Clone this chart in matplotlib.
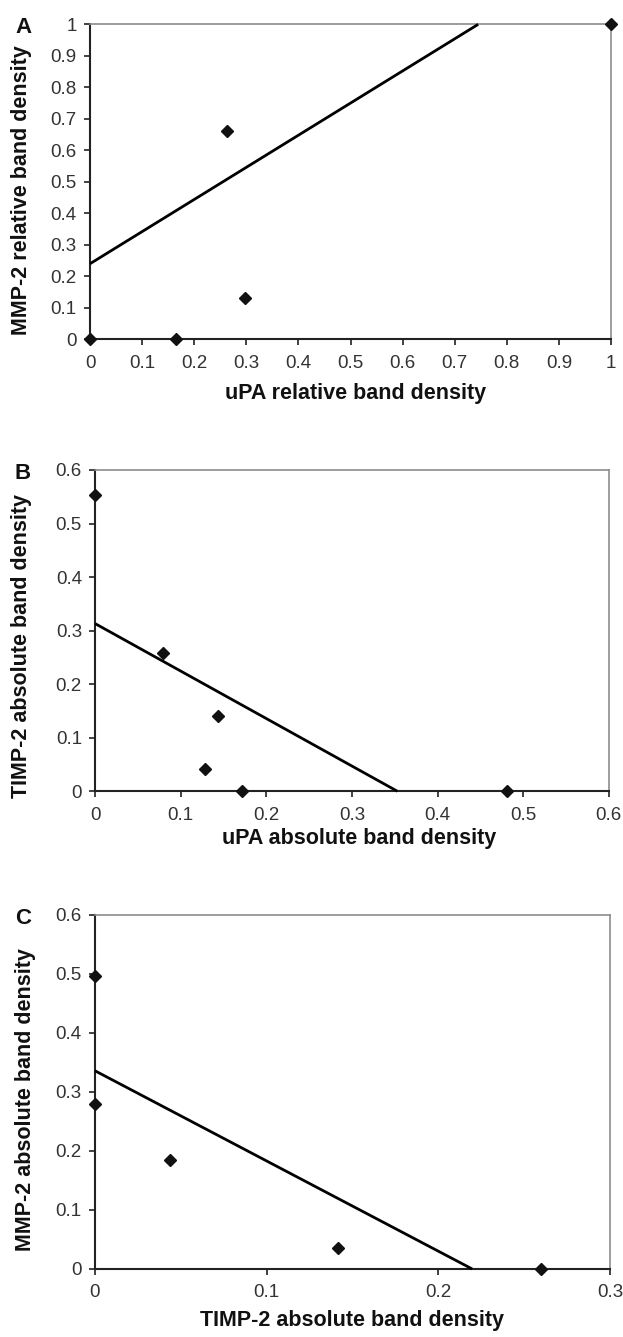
import matplotlib
matplotlib.use('Agg')
import matplotlib.pyplot as plt

# panel A: uPA vs MMP-2 (relative)
a_x = [0, 0.165, 0.263, 0.297, 1.0]
a_y = [0, 0, 0.66, 0.13, 1.0]
a_fit_x = [0, 0.745]
a_fit_y = [0.24, 1.0]
a_ticks_x = [0, 0.1, 0.2, 0.3, 0.4, 0.5, 0.6, 0.7, 0.8, 0.9, 1]
a_ticks_y = [0, 0.1, 0.2, 0.3, 0.4, 0.5, 0.6, 0.7, 0.8, 0.9, 1]

# panel B: uPA vs TIMP-2 (absolute)
b_x = [0, 0.079, 0.143, 0.128, 0.171, 0.481]
b_y = [0.554, 0.258, 0.140, 0.041, 0, 0]
b_fit_x = [0, 0.353]
b_fit_y = [0.313, 0]
b_ticks_x = [0, 0.1, 0.2, 0.3, 0.4, 0.5, 0.6]
b_ticks_y = [0, 0.1, 0.2, 0.3, 0.4, 0.5, 0.6]

# panel C: TIMP-2 vs MMP-2 (absolute)
c_x = [0, 0, 0.0438, 0.1414, 0.2597]
c_y = [0.497, 0.280, 0.184, 0.036, 0]
c_fit_x = [0, 0.2197]
c_fit_y = [0.336, 0]
c_ticks_x = [0, 0.1, 0.2, 0.3]
c_ticks_y = [0, 0.1, 0.2, 0.3, 0.4, 0.5, 0.6]

FONT = ['Liberation Sans', 'DejaVu Sans']


def fmt(v):
    return f'{v:g}'


def draw_panel(fig, rect, letter, xs, ys, fit_x, fit_y, ticks_x, ticks_y,
               xlabel, ylabel, xlab_pos, ylab_pos):
    ax = fig.add_axes(rect)
    ax.plot(fit_x, fit_y, color='black', lw=2.0, solid_capstyle='butt',
            zorder=3, clip_on=False)
    ax.plot(xs, ys, 'D', color='#111111', markersize=6.0, zorder=4,
            clip_on=False)
    ax.set_xlim(ticks_x[0], ticks_x[-1])
    ax.set_ylim(ticks_y[0], ticks_y[-1])
    ax.set_xticks(ticks_x)
    ax.set_yticks(ticks_y)
    ax.set_xticklabels([fmt(t) for t in ticks_x], family=FONT,
                       fontsize=13.5, color='#333333')
    ax.set_yticklabels([fmt(t) for t in ticks_y], family=FONT,
                       fontsize=13.5, color='#333333')
    ax.tick_params(axis='x', direction='out', length=4, width=1.2, pad=7,
                   color='#222222')
    ax.tick_params(axis='y', direction='out', length=4, width=1.2, pad=5.5,
                   color='#222222')
    for side in ('left', 'bottom'):
        ax.spines[side].set_color('#222222')
        ax.spines[side].set_linewidth(1.5)
    for side in ('top', 'right'):
        ax.spines[side].set_color('#8c8c8c')
        ax.spines[side].set_linewidth(1.2)
    ax.set_xlabel(xlabel, family=FONT, fontweight='bold', fontsize=15.5,
                  color='#111111')
    ax.set_ylabel(ylabel, family=FONT, fontweight='bold', fontsize=15.5,
                  color='#111111')
    ax.xaxis.set_label_coords(xlab_pos[0], xlab_pos[1])
    ax.yaxis.set_label_coords(ylab_pos[0], ylab_pos[1])
    fig.text(0.024, rect[1] + rect[3] - 0.0025, letter, family=FONT,
             fontweight='bold', fontsize=16, va='center', ha='left',
             color='#111111')
    return ax


def main():
    fig = plt.figure(figsize=(6.23, 13.37), dpi=100)
    draw_panel(fig, [0.1445, 0.7462, 0.8363, 0.2356], 'A', a_x, a_y,
               a_fit_x, a_fit_y, a_ticks_x, a_ticks_y,
               'uPA relative band density', 'MMP-2 relative band density',
               (0.51, -0.139), (-0.111, 0.474))
    draw_panel(fig, [0.1528, 0.4082, 0.8244, 0.2403], 'B', b_x, b_y,
               b_fit_x, b_fit_y, b_ticks_x, b_ticks_y,
               'uPA absolute band density', 'TIMP-2 absolute band density',
               (0.514, -0.114), (-0.123, 0.452))
    draw_panel(fig, [0.1522, 0.0509, 0.8270, 0.2648], 'C', c_x, c_y,
               c_fit_x, c_fit_y, c_ticks_x, c_ticks_y,
               'TIMP-2 absolute band density', 'MMP-2 absolute band density',
               (0.5, -0.116), (-0.114, 0.479))
    fig.savefig('out.png', dpi=100)


if __name__ == '__main__':
    main()
